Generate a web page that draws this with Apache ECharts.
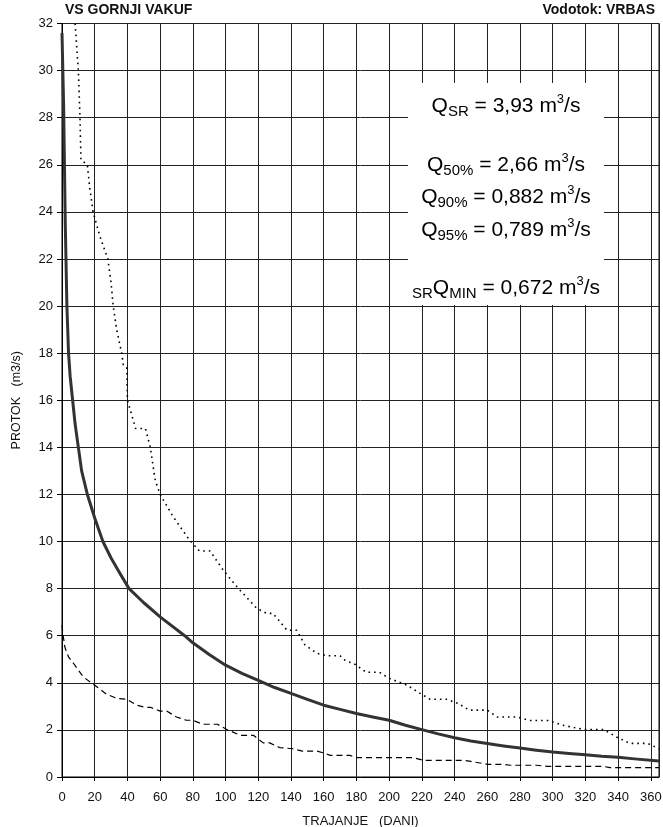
<!DOCTYPE html>
<html>
<head>
<meta charset="utf-8">
<script src="https://cdn.jsdelivr.net/npm/echarts@6/dist/echarts.min.js"></script>
<style>
  html, body { margin: 0; padding: 0; background: #fff; }
  #chart { width: 663px; height: 827px; }
</style>
</head>
<body>
<div id="chart"></div>
<script>
// krive trajanja protoka [dani, m3/s]
var srednjaKriva = [[0, 31.6], [1, 28.5], [1.5, 26], [2, 23.5], [3, 20], [4, 18], [5, 17], [6.5, 16],
  [8, 15], [10, 14], [12, 13], [15.5, 12], [20, 11], [25, 10], [30, 9.3], [35, 8.7], [41, 8],
  [50, 7.4], [60, 6.8], [75, 6], [80, 5.7], [90, 5.2], [100, 4.75], [110, 4.4], [120, 4.1],
  [130, 3.8], [140, 3.55], [150, 3.3], [160, 3.05], [170, 2.87], [180, 2.7], [190, 2.55],
  [200, 2.41], [210, 2.2], [220, 2.01], [230, 1.83], [240, 1.67], [250, 1.53], [260, 1.42],
  [270, 1.32], [280, 1.23], [290, 1.14], [300, 1.06], [310, 1.0], [320, 0.94], [330, 0.88],
  [340, 0.84], [350, 0.77], [365, 0.68]];

var maxKriva = [[8, 32], [10, 30], [11, 28], [11.6, 26.2], [15.5, 26], [17, 25], [19, 24], [23, 23],
  [28, 22], [30, 21], [31.3, 20], [33.4, 19], [36.5, 18], [37.5, 17.5], [39.6, 17.4], [40, 16],
  [45, 14.8], [51, 14.8], [54, 14], [57, 12.6], [60, 12], [68, 11.05], [78, 10.06], [84, 9.6],
  [90.5, 9.6], [98.6, 8.78], [107, 8.07], [119, 7.17], [125, 6.95], [129, 6.95], [137.6, 6.23],
  [143.5, 6.23], [148.6, 5.6], [156, 5.25], [162, 5.15], [170, 5.15], [173, 4.96], [179, 4.79],
  [186, 4.45], [194, 4.45], [200, 4.19], [211, 3.9], [219, 3.55], [225, 3.3], [235, 3.3],
  [242, 3.13], [249, 2.84], [260, 2.84], [266, 2.55], [278, 2.55], [286, 2.4], [297, 2.4],
  [306, 2.2], [319, 2.02], [331, 2.02], [339, 1.7], [347, 1.43], [358, 1.43], [365, 1.2]];

var minKriva = [[0, 6.45], [0.5, 6.1], [1.8, 5.5], [4, 5.1], [7, 4.83], [13, 4.25], [20, 3.9],
  [27.3, 3.51], [33.6, 3.34], [39.7, 3.3], [45.7, 3.05], [51, 2.96], [54, 2.96], [60, 2.8],
  [64, 2.8], [70, 2.55], [76, 2.41], [80, 2.41], [86, 2.24], [95, 2.24], [100.7, 2.02],
  [109, 1.77], [117, 1.77], [123, 1.45], [127, 1.45], [133, 1.25], [141, 1.2], [147, 1.1],
  [156, 1.1], [160, 1.02], [164, 0.92], [176, 0.92], [180, 0.82], [215, 0.82], [221, 0.71],
  [245, 0.71], [250, 0.66], [260, 0.54], [270, 0.54], [274, 0.5], [290, 0.5], [297, 0.45],
  [331, 0.45], [335, 0.4], [365, 0.4]];

var font = "'Liberation Sans', Arial, sans-serif";

var chart = echarts.init(document.getElementById('chart'));

var rich = {
  m: { fontSize: 21, lineHeight: 26, fontFamily: font, color: '#111', verticalAlign: 'middle' },
  sub: { fontSize: 15, lineHeight: 15, fontFamily: font, color: '#111', verticalAlign: 'bottom' },
  sup: { fontSize: 13, lineHeight: 13, fontFamily: font, color: '#111', verticalAlign: 'top' }
};

function qText(text, y) {
  return {
    type: 'text', z: 101,
    style: { text: text, x: 506, y: y, align: 'center', verticalAlign: 'middle', rich: rich }
  };
}

var option = {
  animation: false,
  backgroundColor: '#fff',
  grid: {
    left: 62, right: 4, top: 23.5, bottom: 50, containLabel: false, outerBoundsMode: 'none',
    show: true, borderColor: '#000', borderWidth: 1
  },
  xAxis: {
    type: 'value', min: 0, max: 365, interval: 20,
    name: 'TRAJANJE   (DANI)', nameLocation: 'middle', nameGap: 38,
    nameTextStyle: { fontFamily: font, fontSize: 13, color: '#111' },
    axisLine: { lineStyle: { color: '#000' } },
    axisTick: { show: true, length: 4, lineStyle: { color: '#000' } },
    axisLabel: { fontFamily: font, fontSize: 13, color: '#111', margin: 14, showMaxLabel: false },
    splitLine: { show: true, lineStyle: { color: '#222', width: 1 } }
  },
  yAxis: {
    type: 'value', min: 0, max: 32, interval: 2,
    name: 'PROTOK   (m3/s)', nameLocation: 'middle', nameGap: 39,
    nameTextStyle: { fontFamily: font, fontSize: 12.5, color: '#111' },
    axisLine: { show: true, lineStyle: { color: '#000' } },
    axisTick: { show: true, length: 5, lineStyle: { color: '#000' } },
    axisLabel: { fontFamily: font, fontSize: 13, color: '#111', margin: 9 },
    splitLine: { show: true, lineStyle: { color: '#222', width: 1 } }
  },
  graphic: [
    { type: 'text', left: 65, top: 3,
      style: { text: 'VS GORNJI VAKUF', font: 'bold 14px ' + font, fill: '#111' } },
    { type: 'text', right: 8, top: 3,
      style: { text: 'Vodotok: VRBAS', font: 'bold 14px ' + font, fill: '#111' } },
    { type: 'rect', z: 100, shape: { x: 408, y: 83, width: 196, height: 222 },
      style: { fill: '#fff' } },
    qText('{m|Q}{sub|SR}{m| = 3,93 m}{sup|3}{m|/s}', 106),
    qText('{m|Q}{sub|50%}{m| = 2,66 m}{sup|3}{m|/s}', 165),
    qText('{m|Q}{sub|90%}{m| = 0,882 m}{sup|3}{m|/s}', 197),
    qText('{m|Q}{sub|95%}{m| = 0,789 m}{sup|3}{m|/s}', 230),
    qText('{sub|SR}{m|Q}{sub|MIN}{m| = 0,672 m}{sup|3}{m|/s}', 288)
  ],
  series: [
    {
      name: 'max', type: 'line', data: maxKriva, showSymbol: false, clip: true,
      lineStyle: { color: '#000', width: 1.6, type: [1.6, 4] }
    },
    {
      name: 'min', type: 'line', data: minKriva, showSymbol: false, clip: true,
      lineStyle: { color: '#000', width: 1.2, type: [6, 4] }
    },
    {
      name: 'sr', type: 'line', data: srednjaKriva, showSymbol: false, clip: true,
      lineStyle: { color: '#333', width: 3, join: 'round' }
    }
  ]
};

chart.setOption(option);
</script>
</body>
</html>
